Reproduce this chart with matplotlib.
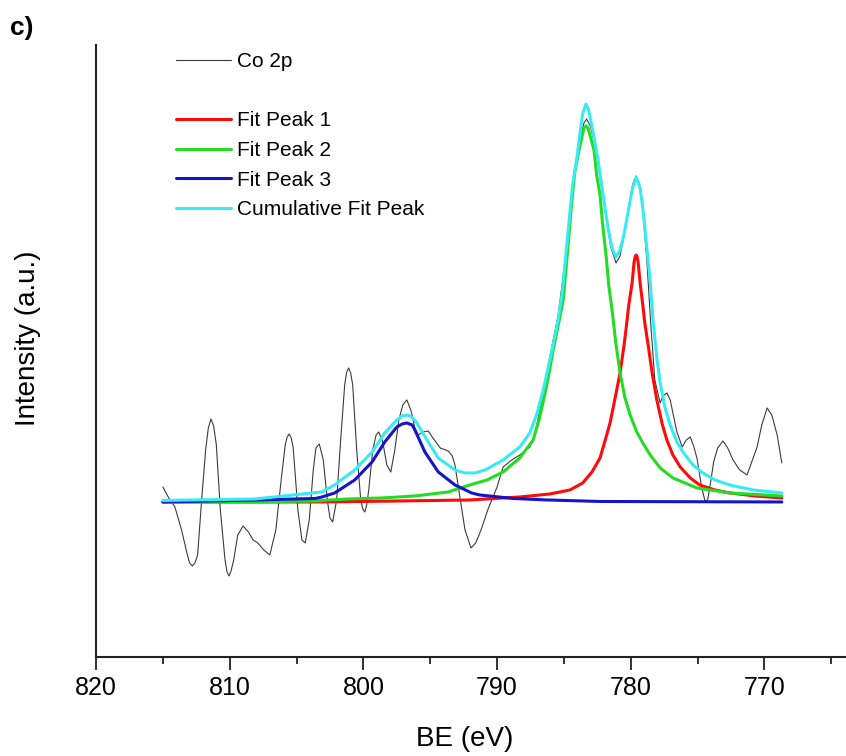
import numpy as np
import matplotlib.pyplot as plt
from matplotlib.lines import Line2D

plt.rcParams['font.family'] = ['Liberation Sans', 'DejaVu Sans']

# Co 2p raw spectrum (BE in eV, intensity in a.u.)
be_raw = [815.0, 814.6, 814.1, 813.6, 813.2, 813.0, 812.8, 812.6, 812.4, 812.1,
          811.8, 811.6, 811.4, 811.2, 811.0, 810.7, 810.35, 810.2, 810.05, 809.9,
          809.7, 809.4, 809.0, 808.6, 808.25, 807.9, 807.45, 807.0, 806.55, 806.15,
          805.85, 805.7, 805.55, 805.4, 805.25, 804.9, 804.6, 804.35, 804.05, 803.75,
          803.55, 803.3, 803.0, 802.7, 802.5, 802.3, 802.0, 801.7, 801.4, 801.25,
          801.1, 800.95, 800.8, 800.5, 800.2, 800.05, 799.9, 799.75, 799.6, 799.3,
          799.05, 798.85, 798.55, 798.25, 797.95, 797.65, 797.35, 797.05, 796.75, 796.45,
          796.15, 795.9, 795.55, 795.15, 794.8, 794.25, 793.65, 793.35, 793.15, 792.8,
          792.4, 791.95, 791.6, 791.2, 790.7, 790.0, 789.55, 788.9, 788.3, 787.55,
          787.15, 786.65, 786.2, 785.8, 785.45, 784.9, 784.55, 784.2, 783.8, 783.5,
          783.3, 783.0, 782.6, 782.25, 781.85, 781.5, 781.1, 780.8, 780.45, 780.05,
          779.85, 779.6, 779.4, 779.1, 778.8, 778.5, 778.2, 777.8, 777.6, 777.3,
          777.05, 776.85, 776.55, 776.15, 775.85, 775.55, 775.3, 775.05, 774.7, 774.45,
          774.25, 774.0, 773.8, 773.5, 773.1, 772.75, 772.35, 771.85, 771.3, 770.95,
          770.55, 770.2, 769.8, 769.45, 769.05, 768.7]
int_raw = [170, 160, 150, 127, 104, 94, 91, 94, 102, 157,
           207, 229, 238, 231, 212, 147, 97, 85, 81, 86,
           97, 122, 131, 125, 117, 114, 107, 102, 127, 177,
           212, 220, 223, 219, 209, 147, 117, 114, 137, 187,
           209, 213, 197, 157, 139, 135, 157, 217, 272, 285,
           289, 284, 272, 207, 157, 148, 145, 152, 167, 207,
           222, 225, 215, 192, 185, 207, 237, 252, 257, 247,
           229, 222, 225, 226, 219, 209, 206, 201, 192, 162,
           127, 109, 114, 127, 147, 170, 190, 197, 202, 210,
           224, 257, 290, 317, 340, 397, 442, 485, 517, 534,
           538, 530, 507, 475, 440, 410, 394, 401, 425, 457,
           473, 481, 475, 447, 397, 332, 277, 254, 261, 264,
           257, 244, 225, 210, 217, 220, 211, 199, 170, 156,
           157, 177, 195, 209, 216, 209, 197, 187, 182, 195,
           210, 232, 249, 242, 222, 194]

# Fit Peak 1
be_p1 = [815.0, 803.25, 797.25, 792.05, 788.3, 786.05, 784.55, 783.6, 782.9, 782.3,
         781.95, 781.55, 781.2, 780.8, 780.5, 780.3, 780.15, 779.9, 779.75, 779.68,
         779.6, 779.52, 779.45, 779.3, 779.1, 778.95, 778.7, 778.4, 778.05, 777.65,
         777.3, 776.85, 776.3, 775.55, 774.85, 773.7, 772.6, 770.7, 768.7]
int_p1 = [155, 155, 156, 157, 160, 163, 167, 174, 185, 199,
          215, 234, 257, 284, 312, 334, 352, 374, 395, 400,
          402, 400, 395, 374, 352, 334, 312, 284, 257, 233,
          217, 202, 190, 179, 172, 167, 164, 161, 159]

# Fit Peak 2
be_p2 = [815.0, 808.5, 803.6, 801.15, 798.6, 796.15, 793.65, 792.05, 790.75, 789.55,
         788.3, 787.3, 786.8, 786.25, 785.8, 785.3, 785.05, 784.75, 784.45, 784.2,
         783.9, 783.65, 783.5, 783.35, 783.2, 783.05, 782.75, 782.55, 782.3, 782.1,
         781.85, 781.65, 781.4, 781.1, 780.8, 780.45, 780.05, 779.55, 779.1, 778.55,
         777.8, 776.85, 775.05, 772.6, 768.7]
int_p2 = [155, 155, 156, 158, 159, 161, 165, 172, 177, 185,
          199, 217, 240, 274, 307, 340, 357, 402, 449, 484,
          505, 520, 529, 531, 529, 522, 507, 482, 462, 432,
          402, 372, 347, 312, 284, 260, 242, 225, 214, 202,
          189, 179, 169, 164, 161]

# Fit Peak 3
be_p3 = [815.0, 808.1, 803.6, 803.1, 802.15, 800.65, 799.35, 798.4, 797.5, 797.1,
         796.75, 796.35, 796.15, 795.4, 794.4, 793.15, 791.9, 791.3, 788.8, 786.25,
         782.3, 768.7]
int_p3 = [155, 157, 158.5, 160, 164, 177, 195, 215, 230, 233,
          234, 232, 227, 205, 185, 172, 164, 162, 158.5, 157,
          155.5, 155]

# Cumulative Fit Peak
be_cum = [815.0, 808.1, 803.1, 802.15, 800.65, 799.35, 798.4, 797.5, 797.1, 796.65,
          796.3, 796.0, 795.25, 794.4, 793.15, 792.4, 791.65, 790.9, 789.55, 788.3,
          787.55, 787.0, 786.55, 786.05, 785.5, 785.15, 784.75, 784.35, 784.0, 783.8,
          783.6, 783.35, 783.15, 782.85, 782.45, 782.1, 781.7, 781.4, 781.1, 780.8,
          780.5, 780.2, 779.9, 779.6, 779.3, 779.1, 778.8, 778.55, 778.35, 778.05,
          777.8, 777.45, 777.05, 776.55, 776.1, 775.35, 774.6, 773.7, 772.6, 770.85,
          768.7]
int_cum = [156.5, 158, 165, 172, 187, 205, 224, 237, 241, 242,
           239, 234, 217, 199, 187, 184, 184, 187, 197, 210,
           224, 244, 267, 297, 332, 362, 417, 472, 502, 524,
           543, 553, 547, 527, 497, 465, 429, 409, 400, 407,
           423, 445, 467, 480, 469, 449, 409, 377, 339, 299,
           274, 250, 232, 215, 205, 192, 184, 177, 172, 167,
           164]

x_major = [820, 810, 800, 790, 780, 770]
x_minor = [815, 805, 795, 785, 775, 765]

fig = plt.figure(figsize=(8.46, 7.56), dpi=100)
ax = fig.add_axes([0.1135, 0.131, 0.8865, 0.8095])

kw = dict(solid_joinstyle='round', solid_capstyle='round')
l0, = ax.plot(be_raw, int_raw, color='#3c3c3c', lw=0.8, **kw)
l1, = ax.plot(be_p1, int_p1, color='#ff0a0a', lw=2.2, **kw)
l2, = ax.plot(be_p2, int_p2, color='#22dd22', lw=2.2, **kw)
l3, = ax.plot(be_p3, int_p3, color='#1414c8', lw=2.2, **kw)
l4, = ax.plot(be_cum, int_cum, color='#38eaf2', lw=2.2, **kw)

ax.set_xlim(820, 763.9)
ax.set_ylim(0, 612)
ax.set_xticks(x_major)
ax.set_xticks(x_minor, minor=True)
ax.set_yticks([])
for s in ['top', 'right']:
    ax.spines[s].set_visible(False)
for s in ['left', 'bottom']:
    ax.spines[s].set_linewidth(1.5)
    ax.spines[s].set_color('#222222')
ax.tick_params(axis='x', which='major', length=9, width=1.3, labelsize=18, pad=5, color='#222222')
ax.tick_params(axis='x', which='minor', length=5, width=1.3, color='#222222')

ax.set_xlabel('BE (eV)', fontsize=20)
ax.xaxis.set_label_coords(0.492, -0.113)
ax.set_ylabel('Intensity (a.u.)', fontsize=20)
ax.yaxis.set_label_coords(-0.074, 0.52)

# blank row between raw data and fits, like the original legend
blank = Line2D([], [], color='none')
ax.legend([l0, blank, l1, l2, l3, l4],
          ['Co 2p', ' ', 'Fit Peak 1', 'Fit Peak 2', 'Fit Peak 3', 'Cumulative Fit Peak'],
          loc='upper left', bbox_to_anchor=(0.208, 0.931), bbox_transform=fig.transFigure,
          frameon=False, fontsize=15, handlelength=2.65, handletextpad=0.3,
          labelspacing=0.51, borderpad=0, borderaxespad=0)

fig.text(0.012, 0.963, 'c)', fontsize=19, fontweight='bold', va='center')

fig.savefig('out.png', dpi=100)
